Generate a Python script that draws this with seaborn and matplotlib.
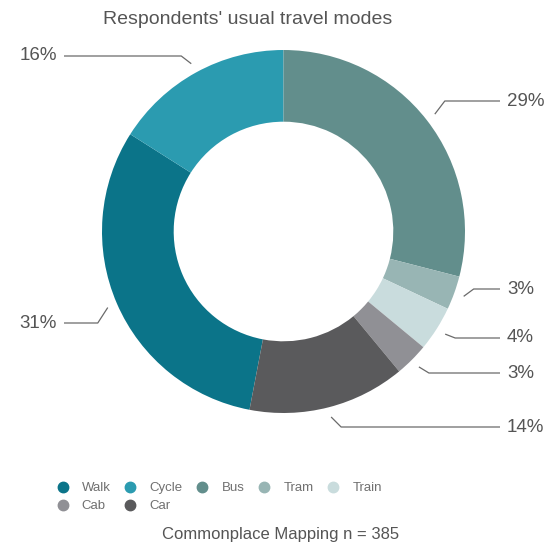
import numpy as np
import matplotlib
matplotlib.use("Agg")
import matplotlib.pyplot as plt
from matplotlib.lines import Line2D
import seaborn as sns

W, H = 553, 549

# data, in legend order
modes = ["Walk", "Cycle", "Bus", "Tram", "Train", "Cab", "Car"]
shares = [31, 16, 29, 3, 4, 3, 14]
colors = ["#0b7489", "#2b9bb0", "#628e8c", "#98b5b4", "#c9dcdd", "#909095", "#5a5a5c"]

# label layout (pixel rows from the top) and side
label_y = [323, 56, 101, 289, 338, 373, 427]
label_side = ["left", "left", "right", "right", "right", "right", "right"]

sns.set_theme(style="white")
plt.rcParams["font.family"] = ["Liberation Sans", "DejaVu Sans"]

text_col = "#555555"
line_col = "#6a6a6a"

fig = plt.figure(figsize=(W / 100, H / 100), dpi=100)
ax = fig.add_axes([0, 0, 1, 1])

cx, cy, R = 283.5, H - 231.5, 181.5
# Bus starts at 12 o'clock, so Walk starts after Bus..Car clockwise
start = 90 - 360 * sum(shares[2:]) / sum(shares)
wedges, _ = ax.pie(shares, colors=colors, startangle=start, counterclock=False,
                   radius=R, center=(cx, cy),
                   wedgeprops=dict(width=R * 0.395, linewidth=0))
ax.set_xlim(0, W)
ax.set_ylim(0, H)
ax.set_aspect("equal")
ax.axis("off")

for w, share, ly, side in zip(wedges, shares, label_y, label_side):
    mid = np.deg2rad((w.theta1 + w.theta2) / 2)
    px = cx + 1.055 * R * np.cos(mid)
    py = cy + 1.055 * R * np.sin(mid)
    ey = H - ly
    if side == "right":
        ex, xend, tx, ha = px + 10, 500, 507, "left"
    else:
        ex, xend, tx, ha = px - 10, 64, 57, "right"
    ax.plot([px, ex, xend], [py, ey, ey], color=line_col, lw=0.9, solid_capstyle="butt")
    ax.text(tx, ey, f"{share}%", ha=ha, va="center", fontsize=13.5, color=text_col)

ax.text(248, H - 20, "Respondents' usual travel modes", ha="center", va="center",
        fontsize=14, color=text_col)
ax.text(281, H - 535, "Commonplace Mapping n = 385", ha="center", va="center",
        fontsize=12, color=text_col)

# legend fills columns first, so reorder to read row by row
ncol = 5
order = [i for c in range(ncol) for i in (c, c + ncol) if i < len(modes)]
handles = [Line2D([], [], marker="o", linestyle="none", markersize=7.5,
                  markerfacecolor=colors[i], markeredgecolor=colors[i], label=modes[i])
           for i in order]
ax.legend(handles=handles, ncol=ncol, loc="upper left",
          bbox_to_anchor=(56, H - 482), bbox_transform=ax.transData,
          frameon=False, fontsize=9.5, handlelength=1.0, handletextpad=0.95,
          columnspacing=1.0, labelspacing=0.45, borderpad=0, borderaxespad=0,
          labelcolor="#707070")

fig.savefig("out.png", dpi=100)
